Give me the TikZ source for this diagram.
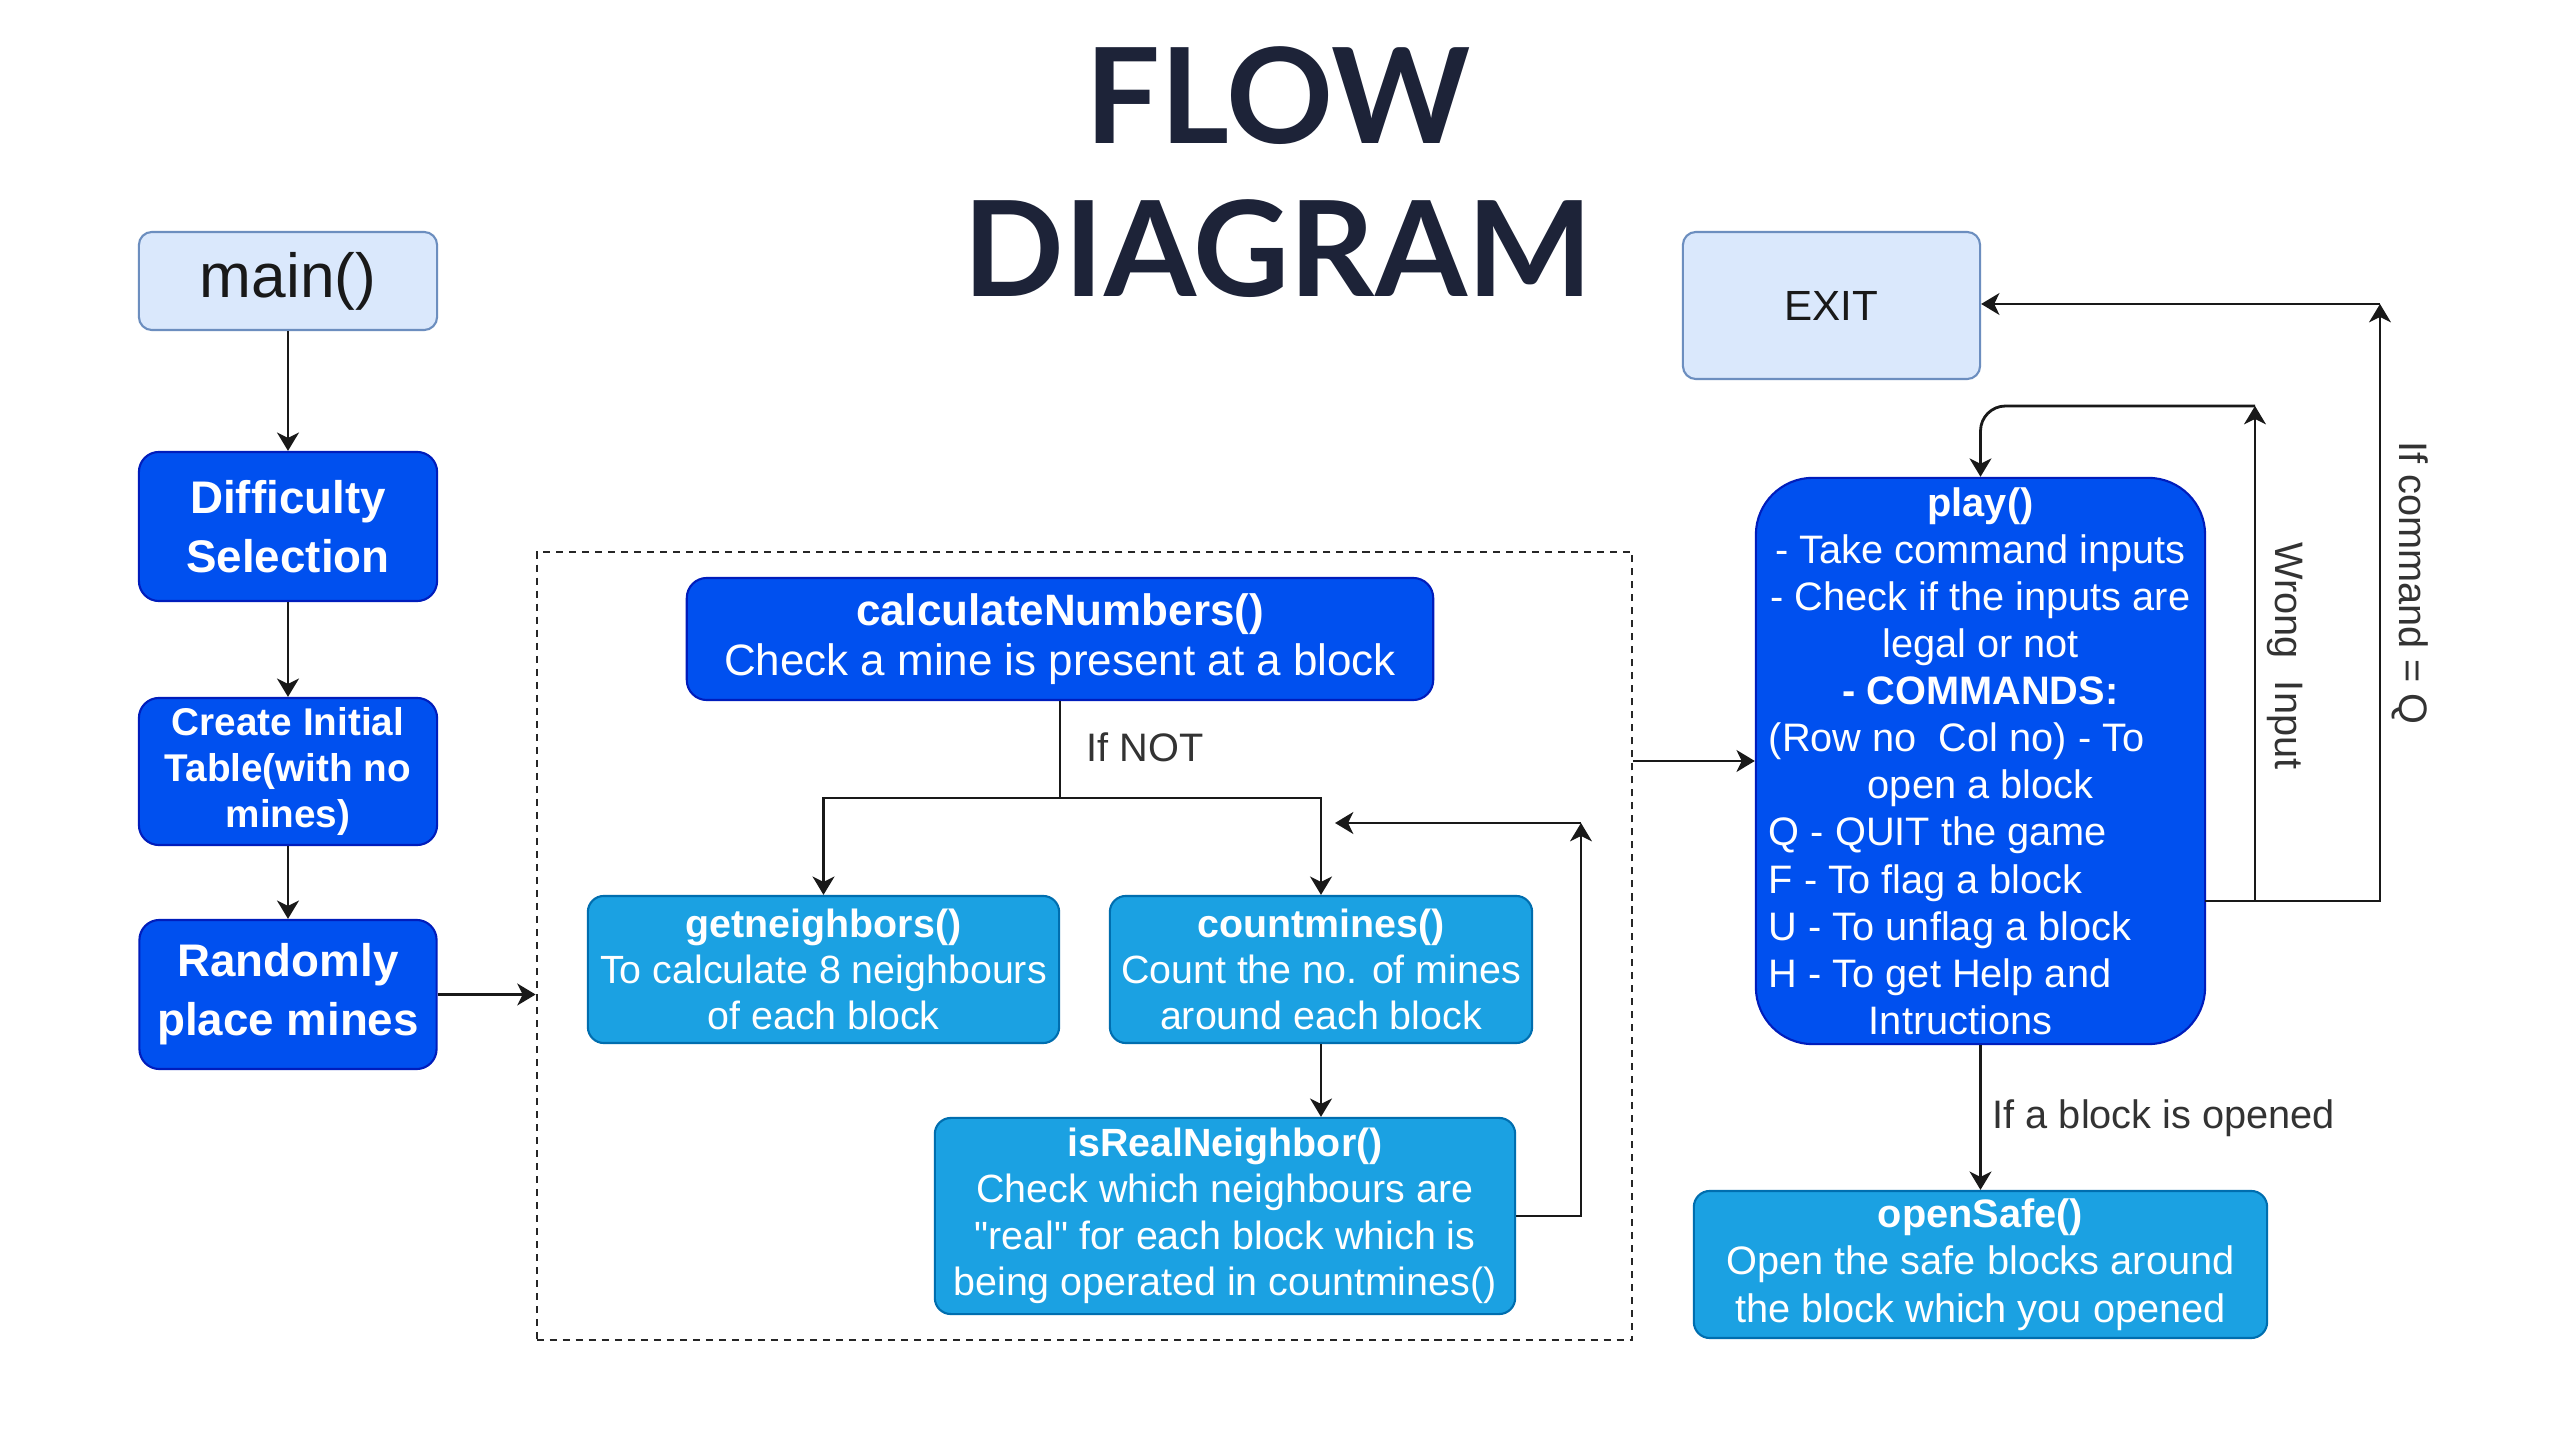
\documentclass[tikz,border=0pt]{standalone}
\usepackage{fontspec}
\setmainfont{Liberation Sans}[Ligatures=TeXOff]
\newfontfamily\titlefont{Lato}
\usetikzlibrary{arrows.meta}
\definecolor{dkblue}{HTML}{0050EF}
\definecolor{dkborder}{HTML}{001DBC}
\definecolor{ltblue}{HTML}{1BA1E2}
\definecolor{ltborder}{HTML}{006EAF}
\definecolor{palefill}{HTML}{DAE8FC}
\definecolor{paleborder}{HTML}{6C8EBF}
\definecolor{titlecol}{HTML}{1D2338}
\definecolor{labcol}{HTML}{333333}
\begin{document}
\begin{tikzpicture}[x=0.01cm,y=-0.01cm,
  boxbase/.style={rectangle, inner sep=0pt, align=center, line width=0.6pt},
  palebox/.style={boxbase, fill=palefill, draw=paleborder, rounded corners=0.13cm, text=black!90},
  darkbox/.style={boxbase, fill=dkblue, draw=dkborder, text=white, rounded corners=0.2cm},
  lightbox/.style={boxbase, fill=ltblue, draw=ltborder, text=white, rounded corners=0.16cm},
  arr/.style={-{Stealth[length=5.2pt,width=6.2pt,inset=1.5pt]}, line width=0.8pt, draw=black!90},
  plain/.style={line width=0.8pt, draw=black!90},
  lab/.style={text=labcol, inner sep=0pt, font=\fontsize{11.3}{13.4}\selectfont},
  titlestyle/.style={font=\titlefont\bfseries\fontsize{37.7}{45}\selectfont, text=titlecol, anchor=base, inner sep=0pt}
]
\fill[white] (0,0) rectangle (2559,1440);
\useasboundingbox (0,0) rectangle (2559,1440);

% title
\node[titlestyle] (t1) at (1278,144) {FLOW};
\node[titlestyle] (t2) at (1278,297) {DIAGRAM};

% left column
\node[palebox, minimum width=2.98cm, minimum height=0.98cm, font=\fontsize{17.7}{21}\selectfont] (main) at (288,281) {main()};
\node[darkbox, minimum width=2.98cm, minimum height=1.49cm, font=\fontsize{13}{16.8}\selectfont\bfseries] (diff) at (288,526.5) {Difficulty\\Selection};
\node[darkbox, minimum width=2.98cm, minimum height=1.47cm, font=\fontsize{11}{13.2}\selectfont\bfseries] (create) at (288,771.5) {Create Initial\\Table(with no\\mines)};
\node[darkbox, minimum width=2.97cm, minimum height=1.49cm, font=\fontsize{13}{16.8}\selectfont\bfseries] (rand) at (288,994.5) {Randomly\\place mines};

% dashed group
\node[draw=black!85, line width=0.6pt, dash pattern=on 2pt off 1.7pt, minimum width=10.95cm, minimum height=7.88cm, inner sep=0pt] (group) at (1084.5,946) {};

\node[darkbox, minimum width=7.46cm, minimum height=1.22cm, font=\fontsize{12.5}{14.4}\selectfont] (calc) at (1060,639) {\textbf{calculateNumbers()}\\Check a mine is present at a block};
\node[lightbox, minimum width=4.71cm, minimum height=1.47cm, font=\fontsize{11.2}{13.2}\selectfont] (getn) at (823.5,969.5) {\textbf{getneighbors()}\\To calculate 8 neighbours\\of each block};
\node[lightbox, minimum width=4.22cm, minimum height=1.47cm, font=\fontsize{11.2}{13.2}\selectfont] (countm) at (1321,969.5) {\textbf{countmines()}\\Count the no. of mines\\around each block};
\node[lightbox, minimum width=5.80cm, minimum height=1.96cm, font=\fontsize{11.2}{13.2}\selectfont] (isreal) at (1225,1216) {\textbf{isRealNeighbor()}\\Check which neighbours are\\"real" for each block which is\\being operated in countmines()};

% right side
\node[palebox, minimum width=2.97cm, minimum height=1.47cm, font=\fontsize{12}{14}\selectfont] (exit) at (1831.5,305.5) {EXIT};
\node[darkbox, rounded corners=0.57cm, minimum width=4.49cm, minimum height=5.66cm, font=\fontsize{11.3}{13.4}\selectfont] (play) at (1980.5,761) {\textbf{play()}\\
- Take command inputs\\
- Check if the inputs are\\
legal or not\\
\textbf{- COMMANDS:}\\
\makebox[4.23cm][l]{(Row no\ \ Col no) - To}\\
open a block\\
\makebox[4.23cm][l]{Q - QUIT the game}\\
\makebox[4.23cm][l]{F - To flag a block}\\
\makebox[4.23cm][l]{U - To unflag a block}\\
\makebox[4.23cm][l]{H - To get Help and}\\
\makebox[4.23cm][l]{\hspace{1cm}Intructions}};
\node[lightbox, minimum width=5.73cm, minimum height=1.47cm, font=\fontsize{11.3}{13.5}\selectfont] (opensafe) at (1980.5,1264.5) {\textbf{openSafe()}\\Open the safe blocks around\\the block which you opened};

% connectors left
\draw[arr] (main) -- (diff);
\draw[arr] (diff) -- (create);
\draw[arr] (create) -- (rand);
\draw[arr] (rand.east) -- (rand.east -| group.west);
\draw[arr] (group.east |- play.west) -- (play.west);

% inside group
\coordinate (split) at (1060,798);
\draw[plain] (calc.south) -- (split);
\draw[arr] (split) -| (getn.north);
\draw[arr] (split) -| (countm.north);
\node[lab, anchor=west] (ifnot) at (1086,747) {If NOT};
\draw[arr] (countm.south) -- (countm.south |- isreal.north);
\coordinate (loopc) at (1581,823);
\coordinate (loopend) at (1335,823);
\draw[arr] (isreal.east) -| (loopc);
\draw[arr] (loopc) -- (loopend);

% play loops
\coordinate (pr) at (2205,901);
\coordinate (wr) at (2255,406);
\coordinate (qr) at (2380,304);
\draw[arr] (pr) -| (wr);
\draw[arr, rounded corners=0.25cm] (wr) -| (play.north);
\draw[arr] (pr) -| (qr);
\draw[arr] (qr) -- (qr -| exit.east);
\node[lab, rotate=-90] (wlab) at (2285,656) {Wrong\ \ Input};
\node[lab, rotate=-90] (qlab) at (2410,583) {If command = Q};
\draw[arr] (play.south) -- (opensafe.north);
\node[lab, anchor=west] (olab) at (1992,1118) {If a block is opened};
\end{tikzpicture}
\end{document}
